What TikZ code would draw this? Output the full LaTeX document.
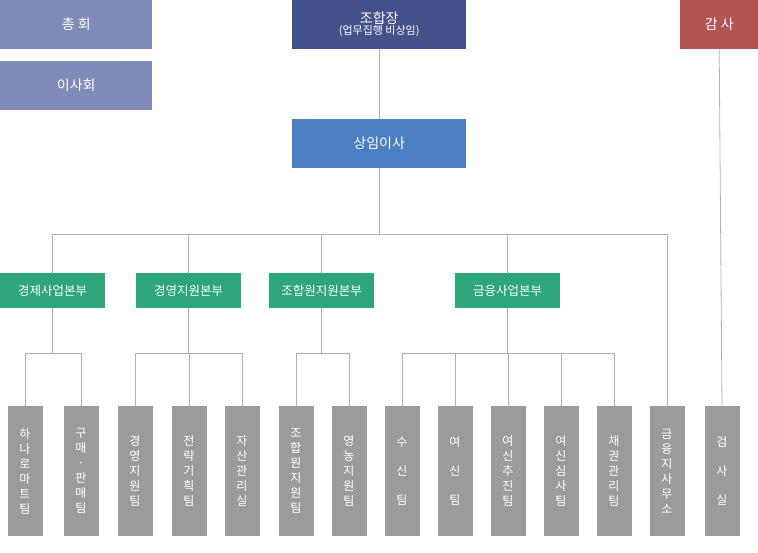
\documentclass[tikz,border=0pt]{standalone}
\usepackage{fontspec}
\setmainfont{Noto Sans CJK KR}
\definecolor{top}{HTML}{7F8CB7}
\definecolor{navy}{HTML}{44528C}
\definecolor{red}{HTML}{B35453}
\definecolor{blu}{HTML}{4A7FC2}
\definecolor{grn}{HTML}{2EA67B}
\definecolor{gry}{HTML}{9B9B9B}
\definecolor{ln}{HTML}{B0B0B0}
\begin{document}
\begin{tikzpicture}[x=1pt,y=-1pt,
 box/.style={draw=none,text=white,inner sep=0,anchor=north west},
 bottom/.style={fill=gry,text=white,minimum width=35pt,minimum height=130pt,anchor=north,inner sep=0,font=\fontsize{12}{15}\selectfont,align=center},
 mid/.style={fill=grn,text=white,minimum width=105pt,minimum height=35pt,anchor=north west,inner sep=0,font=\fontsize{12.5}{14}\selectfont},
 con/.style={draw=ln,line width=0.8pt}]
\useasboundingbox (0,0) rectangle (758,553);
\node[box,fill=top,minimum width=152pt,minimum height=49pt,font=\fontsize{14}{16}\selectfont] (a) at (0,0) {총 회};
\node[box,fill=top,minimum width=152pt,minimum height=49pt,font=\fontsize{14}{16}\selectfont] (b) at (0,61) {이사회};
\node[box,fill=navy,minimum width=174pt,minimum height=49pt,align=center] (c) at (292,0) {{\fontsize{14}{16}\selectfont 조합장}\\[-1pt]{\fontsize{11}{13}\selectfont (업무집행 비상임)}};
\node[box,fill=red,minimum width=78pt,minimum height=49pt,font=\fontsize{14}{16}\selectfont] (d) at (680,0) {감 사};
\node[box,fill=blu,minimum width=174pt,minimum height=49pt,font=\fontsize{14}{16}\selectfont] (e) at (292,119) {상임이사};
\node[mid] (g1) at (0,273) {경제사업본부};
\node[mid] (g2) at (136,273) {경영지원본부};
\node[mid] (g3) at (269,273) {조합원지원본부};
\node[mid] (g4) at (455,273) {금융사업본부};
\newcommand{\vt}[1]{\shortstack{#1}}
\node[bottom] (t1) at (25,406) {하\\나\\로\\마\\트\\팀};
\node[bottom] (t2) at (81,406) {구\\매\\·\\판\\매\\팀};
\node[bottom] (t3) at (135,406) {경\\영\\지\\원\\팀};
\node[bottom] (t4) at (189,406) {전\\략\\기\\획\\팀};
\node[bottom] (t5) at (242,406) {자\\산\\관\\리\\실};
\node[bottom] (t6) at (296,406) {조\\합\\원\\지\\원\\팀};
\node[bottom] (t7) at (349,406) {영\\농\\지\\원\\팀};
\node[bottom] (t8) at (402,406) {수\\[14pt]신\\[14pt]팀};
\node[bottom] (t9) at (455,406) {여\\[14pt]신\\[14pt]팀};
\node[bottom] (t10) at (508,406) {여\\신\\추\\진\\팀};
\node[bottom] (t11) at (561,406) {여\\신\\심\\사\\팀};
\node[bottom] (t12) at (614,406) {채\\권\\관\\리\\팀};
\node[bottom] (t13) at (667,406) {금\\융\\지\\사\\무\\소};
\node[bottom] (t14) at (722,406) {검\\[14pt]사\\[14pt]실};
\coordinate (h) at (0,234);
\draw[con] (c.south) -- (e.north);
\draw[con] (d.south) -- (t14.north);
\draw[con] (e.south) -- (e.south |- h);
\draw[con] (g1.north) |- (t13.north |- h) -- (t13.north);
\foreach \g in {g2,g3,g4} \draw[con] (\g.north) -- (\g.north |- h);
\coordinate (m) at (0,353);
\draw[con] (g1.south) -- (g1.south |- m);
\draw[con] (t1.north) |- (t2.north |- m) -- (t2.north);
\draw[con] (g2.south) -- (g2.south |- m);
\draw[con] (t3.north) |- (t5.north |- m) -- (t5.north);
\draw[con] (t4.north) -- (t4.north |- m);
\draw[con] (g3.south) -- (g3.south |- m);
\draw[con] (t6.north) |- (t7.north |- m) -- (t7.north);
\draw[con] (g4.south) -- (g4.south |- m);
\draw[con] (t8.north) |- (t12.north |- m) -- (t12.north);
\foreach \t in {t9,t10,t11} \draw[con] (\t.north) -- (\t.north |- m);
\end{tikzpicture}
\end{document}
